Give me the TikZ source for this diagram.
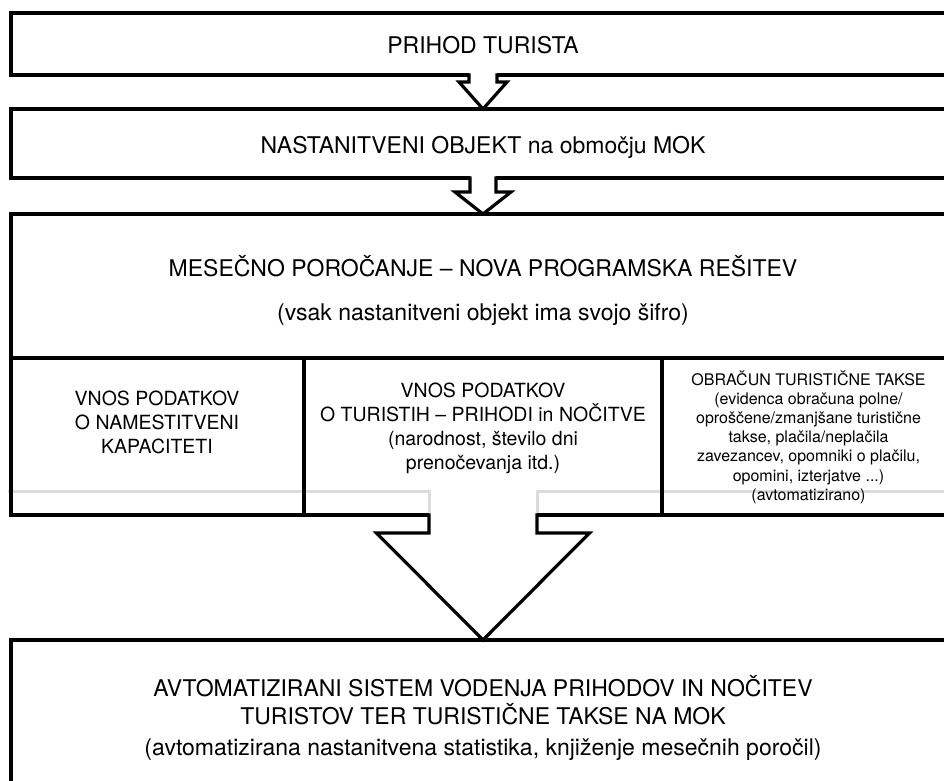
\documentclass[tikz,border=0pt]{standalone}
\usepackage{fontspec}
\setmainfont{TeX Gyre Heros}
\usetikzlibrary{calc,backgrounds}
\tikzset{
  ln/.style={line width=3.2pt, draw=black},
  box/.style={ln, rectangle, inner sep=0pt, outer sep=0pt, anchor=north west},
  big/.style={font=\fontsize{23}{28}\selectfont, inner sep=0pt, anchor=base},
  mid/.style={font=\fontsize{19.5}{24}\selectfont, align=center, inner sep=0pt},
  small/.style={font=\fontsize{16}{19.2}\selectfont, align=center, inner sep=0pt},
  ghost/.style={line width=3pt, draw=black!14},
}
% #1 from node, #2 to node, #3 shaft half width, #4 shaft length, #5 head half width
\newcommand\blkarrow[5]{%
  \path (#1.south) coordinate (ta) (#2.north) coordinate (tb);
  \fill[white] ($(ta)+(-#3,-2)$) -- ($(ta)+(-#3,#4)$) -- ($(ta)+(-#5,#4)$) -- (tb)
     -- ($(ta)+(#5,#4)$) -- ($(ta)+(#3,#4)$) -- ($(ta)+(#3,-2)$) -- cycle;
  \draw[ln, line join=miter] ($(ta)+(-#3,-1.6)$) -- ($(ta)+(-#3,#4)$) -- ($(ta)+(-#5,#4)$) -- (tb)
     -- ($(ta)+(#5,#4)$) -- ($(ta)+(#3,#4)$) -- ($(ta)+(#3,-1.6)$);
}
\begin{document}
\begin{tikzpicture}[x=1pt,y=-1pt]
\useasboundingbox (0,0) rectangle (944,780);
\clip (0,0) rectangle (944,780);

% boxes
\node[box, draw, minimum width=944pt, minimum height=62pt] (b1) at (11,13) {};
\node[box, draw, minimum width=944pt, minimum height=69pt] (b2) at (11,109) {};
\node[box, draw, minimum width=944pt, minimum height=301pt] (b3) at (11,214) {};
\node[box, draw, minimum width=293pt, minimum height=157pt] (c1) at (11,358) {};
\node[box, draw, minimum width=358pt, minimum height=157pt] (c2) at (304,358) {};
\node[box, draw, minimum width=293pt, minimum height=157pt] (c3) at (662,358) {};
\node[box, draw, minimum width=944pt, minimum height=200pt] (b4) at (11,640) {};

% ghost lines
\begin{pgfonlayer}{background}
  \draw[ghost] (8,491) -- (429,491) -- (429,515);
  \draw[ghost] (537,515) -- (537,491) -- (960,491);
\end{pgfonlayer}

% texts
\node[big] (t1) at (483,53) {PRIHOD TURISTA};
\node[big] (t2) at (483,153) {NASTANITVENI OBJEKT na območju MOK};
\node[big] (t3a) at (483,276) {MESEČNO POROČANJE – NOVA PROGRAMSKA REŠITEV};
\node[big] (t3b) at (483,320) {(vsak nastanitveni objekt ima svojo šifro)};
\node[mid] (tc1) at (157,422.5) {VNOS PODATKOV\\O NAMESTITVENI\\KAPACITETI};
\node[mid] (tc2) at (483,428.5) {VNOS PODATKOV\\O TURISTIH – PRIHODI in NOČITVE\\(narodnost, število dni\\prenočevanja itd.)};
\node[small] (tc3) at (808.5,437) {OBRAČUN TURISTIČNE TAKSE\\(evidenca obračuna polne/\\oproščene/zmanjšane turistične\\takse, plačila/neplačila\\zavezancev, opomniki o plačilu,\\opomini, izterjatve ...)\\(avtomatizirano)};
\node[big] (t4a) at (483,696) {AVTOMATIZIRANI SISTEM VODENJA PRIHODOV IN NOČITEV};
\node[big] (t4b) at (483,724) {TURISTOV TER TURISTIČNE TAKSE NA MOK};
\node[big] (t4c) at (483,755) {(avtomatizirana nastanitvena statistika, knjiženje mesečnih poročil)};

% block arrows
\blkarrow{b1}{b2}{14}{7}{24}
\blkarrow{b2}{b3}{13}{14}{28}
\blkarrow{b3}{b4}{54}{18}{106.5}
\end{tikzpicture}
\end{document}
